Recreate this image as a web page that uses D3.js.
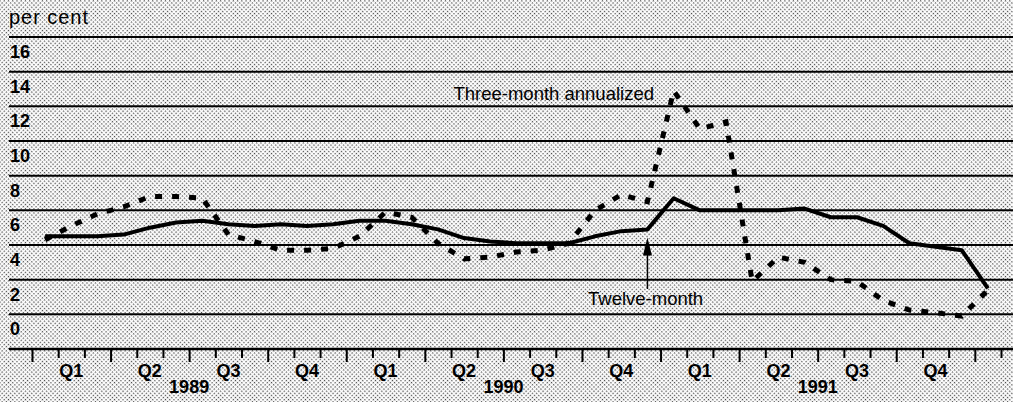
<!DOCTYPE html>
<html lang="en">
  <head>
      <meta charset="utf-8">
      <title>Inflation, 1989-1991</title>
      <script type="text/javascript" src="https://cdn.jsdelivr.net/npm/d3@7"></script>
      <style>
        body { margin: 0; }
        text { font-family: "Liberation Sans", Arial, sans-serif; fill: #000; }
      </style>
  </head>
  <body>
      <script type="text/javascript">

      // Monthly values, Jan 1989 .. Jan 1992 (per cent)
      var twelveMonth = [4.5, 4.5, 4.5, 4.6, 5.0, 5.3, 5.4, 5.2, 5.1, 5.2, 5.1, 5.2,
                         5.4, 5.4, 5.2, 4.9, 4.4, 4.2, 4.1, 4.1, 4.1, 4.5, 4.8, 4.9,
                         6.7, 6.0, 6.0, 6.0, 6.0, 6.1, 5.6, 5.6, 5.1, 4.1, 3.9, 3.7,
                         1.5];
      var threeMonth = [4.3, 5.1, 5.8, 6.2, 6.8, 6.8, 6.7, 4.6, 4.2, 3.7, 3.7, 3.8,
                        4.5, 5.9, 5.6, 4.1, 3.2, 3.3, 3.6, 3.7, 4.1, 6.0, 6.9, 6.5,
                        12.9, 10.7, 11.1, 1.9, 3.3, 3.0, 2.0, 1.9, 0.8, 0.25, 0.1, -0.1,
                        1.4];
      var yTicks = [0, 2, 4, 6, 8, 10, 12, 14, 16];
      var quarters = ["Q1", "Q2", "Q3", "Q4"];
      var years = ["1989", "1990", "1991"];

      var w = 1013;
      var h = 402;

      var svg = d3.select("body").append("svg").attr("width", w).attr("height", h);

      // halftone background
      var pat = svg.append("defs").append("pattern").attr("id", "dots")
        .attr("width", 3).attr("height", 3).attr("patternUnits", "userSpaceOnUse")
        .attr("patternTransform", "rotate(45)");
      pat.append("rect").attr("width", 3).attr("height", 3).attr("fill", "#fff");
      pat.append("rect").attr("width", 1.3).attr("height", 1.3).attr("fill", "#444");
      svg.append("rect").attr("width", w).attr("height", h).attr("fill", "url(#dots)");

      // month index scale: 0 = start of Jan 1989
      var x = d3.scaleLinear().domain([0, 37]).range([32, 1001]);
      var y = d3.scaleLinear().domain([-2, 16]).range([349, 37]);

      // grid lines and labels
      svg.selectAll("line.grid").data(yTicks).enter().append("line").attr("class", "grid")
        .attr("x1", 9).attr("x2", w).attr("y1", function(d){ return y(d); }).attr("y2", function(d){ return y(d); })
        .attr("stroke", "#000").attr("stroke-width", 2);
      svg.selectAll("text.ylab").data(yTicks).enter().append("text").attr("class", "ylab")
        .text(function(d){ return d; })
        .attr("x", 10).attr("y", function(d){ return y(d) + 21; })
        .attr("font-size", "18px").attr("font-weight", "bold");

      svg.append("text").text("per cent").attr("x", 9).attr("y", 24)
        .attr("font-size", "20px").attr("textLength", 79).attr("lengthAdjust", "spacing");

      // x axis
      svg.append("line").attr("x1", 9).attr("x2", w).attr("y1", y(-2)).attr("y2", y(-2))
        .attr("stroke", "#000").attr("stroke-width", 2.5);

      var monthAxis = d3.axisBottom(x).tickValues(d3.range(0, 38).filter(function(d){ return d % 3 != 0; }))
        .tickSize(9).tickFormat("");
      var quarterAxis = d3.axisBottom(x).tickValues(d3.range(0, 38, 3)).tickSize(13).tickFormat("");
      [monthAxis, quarterAxis].forEach(function(ax){
        var g = svg.append("g").attr("transform", "translate(0," + y(-2) + ")").call(ax);
        g.select(".domain").remove();
        g.selectAll("line").attr("stroke", "#000").attr("stroke-width", 2);
      });

      var qData = d3.range(12).map(function(i){ return { label: quarters[i % 4], pos: i * 3 + 1.5 }; });
      svg.selectAll("text.qlab").data(qData).enter().append("text").attr("class", "qlab")
        .text(function(d){ return d.label; })
        .attr("x", function(d){ return x(d.pos); }).attr("y", 377)
        .attr("text-anchor", "middle").attr("font-size", "18px").attr("font-weight", "bold");
      svg.selectAll("text.year").data(years).enter().append("text").attr("class", "year")
        .text(function(d){ return d; })
        .attr("x", function(d, i){ return x(i * 12 + 6); }).attr("y", 393)
        .attr("text-anchor", "middle").attr("font-size", "18px").attr("font-weight", "bold");

      // series
      var line = d3.line().x(function(d, i){ return x(i + 0.5); }).y(function(d){ return y(d); });

      svg.append("path").datum(threeMonth).attr("d", line).attr("fill", "none")
        .attr("stroke", "#000").attr("stroke-width", 5).attr("stroke-dasharray", "7,10");
      svg.append("path").datum(twelveMonth).attr("d", line).attr("fill", "none")
        .attr("stroke", "#000").attr("stroke-width", 4).attr("stroke-linejoin", "round");

      // annotations
      svg.append("text").text("Three-month annualized").attr("x", 654).attr("y", 100)
        .attr("text-anchor", "end").attr("font-size", "18.5px");

      var ax0 = x(23.5), tip = y(twelveMonth[23]) + 8;
      svg.append("line").attr("x1", ax0).attr("x2", ax0).attr("y1", tip + 14).attr("y2", 289)
        .attr("stroke", "#000").attr("stroke-width", 1.5);
      svg.append("path").attr("d", "M" + ax0 + "," + tip + "L" + (ax0 - 4.5) + "," + (tip + 18) + "L" + (ax0 + 4.5) + "," + (tip + 18) + "Z")
        .attr("fill", "#000");
      svg.append("text").text("Twelve-month").attr("x", 588).attr("y", 305).attr("font-size", "18.5px");

      </script>
  </body>
</html>
